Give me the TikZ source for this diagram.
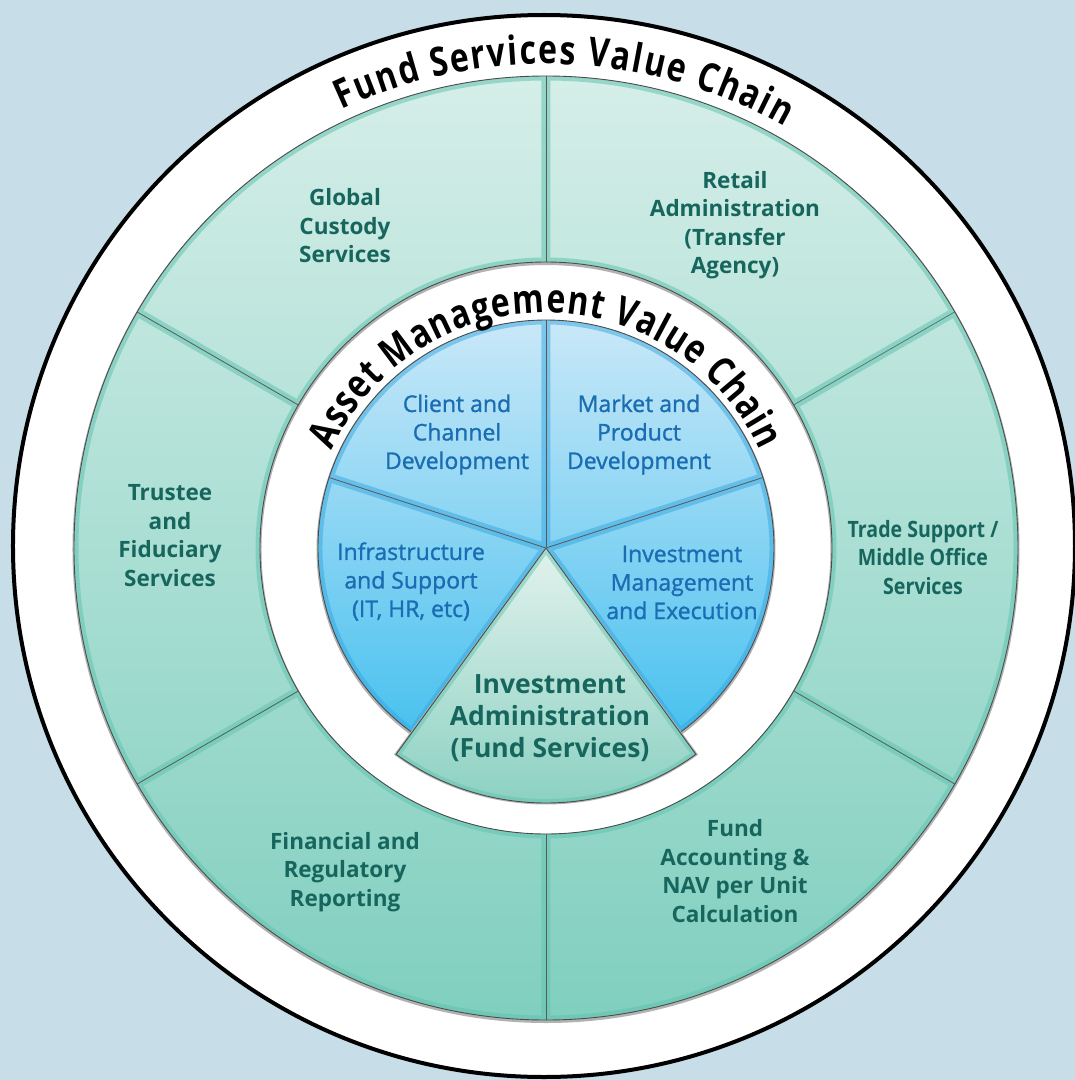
\documentclass[tikz,border=0pt]{standalone}
\usepackage{fontspec}
\setmainfont{Open Sans}
\newfontfamily\titlefont[FakeStretch=0.8]{Open Sans}
\newfontfamily\condfont[FakeStretch=0.87]{Open Sans}
\newfontfamily\bluefont[FakeBold=1.2]{Open Sans}
\usetikzlibrary{decorations.text}
\definecolor{bgblue}{HTML}{C7DDE8}
\definecolor{tealtext}{HTML}{17665E}
\definecolor{bluetext}{HTML}{1A6DB3}
\definecolor{tealtop}{HTML}{D5EEE8}
\definecolor{tealbot}{HTML}{80CFBF}
\definecolor{tealedge}{HTML}{62C4B0}
\definecolor{bluetop}{HTML}{C9E8F8}
\definecolor{bluebot}{HTML}{3CBDEE}
\definecolor{blueedge}{HTML}{35A6E0}
\definecolor{wedgetop}{HTML}{E2F2ED}
\definecolor{wedgebot}{HTML}{86CFBF}

\begin{document}
\begin{tikzpicture}[x=1pt,y=1pt,
  outerlabel/.style={text=tealtext,font=\fontsize{22.5}{28.5}\selectfont\bfseries,align=center},
  innerlabel/.style={text=bluetext,font=\fontsize{23}{28.5}\selectfont\bluefont,align=center},
  rim/.style={draw=black!70,line width=0.9},
  divider/.style={draw=black!65,line width=0.8},
  shadowline/.style={draw=black!30,line width=3}]
\useasboundingbox (-546,-532) rectangle (529,548);
\fill[bgblue] (-546,-532) rectangle (529,548);

% big white disc
\draw[line width=4,fill=white] (-2,2) circle (531);

% fund services ring
\draw[shadowline] (0,-1.5) circle (472);
\draw[shadowline] (0,-1.5) circle (286);
\shade[top color=tealtop,bottom color=tealbot,even odd rule] (0,0) circle (472) (0,0) circle (286);
\foreach \a in {30,90,...,330}{
  \begin{scope}
    \clip (\a:286) -- (\a:472) arc[start angle=\a,delta angle=60,radius=472]
      -- ({\a+60}:286) arc[start angle={\a+60},delta angle=-60,radius=286] -- cycle;
    \draw[tealedge,opacity=0.55,line width=9] (\a:286) -- (\a:472) arc[start angle=\a,delta angle=60,radius=472]
      -- ({\a+60}:286) arc[start angle={\a+60},delta angle=-60,radius=286] -- cycle;
  \end{scope}
  \draw[divider] (\a:286) -- (\a:472);
}
\draw[rim] (0,0) circle (472);
\draw[rim] (0,0) circle (286);

% asset management pie
\draw[shadowline] (0,-1.5) circle (228);
\shade[top color=bluetop,bottom color=bluebot] (0,0) circle (228);
\foreach \a in {-54,18,90,162}{
  \begin{scope}
    \clip (0,0) -- (\a:228) arc[start angle=\a,delta angle=72,radius=228] -- cycle;
    \draw[blueedge,opacity=0.5,line width=9] (0,0) -- (\a:228) arc[start angle=\a,delta angle=72,radius=228] -- cycle;
  \end{scope}
}
\draw[rim] (0,0) circle (228);
\draw[divider] (0,0) -- (90:228);
\draw[divider] (0,0) -- (18:228);
\draw[divider] (0,0) -- (162:228);

% fund services wedge
\draw[shadowline] (0,-1.5) -- (-126:255) arc[start angle=-126,end angle=-54,radius=255] -- cycle;
\shade[top color=wedgetop,bottom color=wedgebot] (0,0) -- (-126:255) arc[start angle=-126,end angle=-54,radius=255] -- cycle;
\begin{scope}
  \clip (0,0) -- (-126:255) arc[start angle=-126,end angle=-54,radius=255] -- cycle;
  \draw[tealedge,opacity=0.5,line width=8] (0,0) -- (-126:255) arc[start angle=-126,end angle=-54,radius=255] -- cycle;
\end{scope}
\draw[rim] (0,0) -- (-126:255) arc[start angle=-126,end angle=-54,radius=255] -- cycle;

% ring titles
\path[decorate,decoration={text along path,text align=fit to path,
  text={|\titlefont\bfseries\fontsize{40}{40}\selectfont|Fund Services Value Chain}}]
  (115:484) arc[start angle=115,end angle=60.5,radius=484];
\path[decorate,decoration={text along path,text align=fit to path,
  text={|\titlefont\bfseries\fontsize{40}{40}\selectfont|Asset Management Value Chain}}]
  (155.5:235) arc[start angle=155.5,end angle=24.5,radius=235];

% outer labels
\node[outerlabel] (gcs) at (-201,322) {Global\\Custody\\Services};
\node[outerlabel] (ra) at (189,323) {Retail\\Administration\\(Transfer\\Agency)};
\node[outerlabel] (tfs) at (-376,12.5) {Trustee\\and\\Fiduciary\\Services};
\node[outerlabel,font=\fontsize{22.5}{28.5}\selectfont\condfont\bfseries] (ts) at (377,-9.5) {Trade Support /\\Middle Office\\Services};
\node[outerlabel] (frr) at (-201,-324) {Financial and\\Regulatory\\Reporting};
\node[outerlabel] (fa) at (189,-323) {Fund\\Accounting \&\\NAV per Unit\\Calculation};

% inner labels
\node[innerlabel] (ccd) at (-89,113.5) {Client and\\Channel\\Development};
\node[innerlabel] (mpd) at (93,113.5) {Market and\\Product\\Development};
\node[innerlabel] (isu) at (-135,-33.5) {Infrastructure\\and Support\\(IT, HR, etc)};
\node[innerlabel] (ime) at (136,-34.5) {Investment\\Management\\and Execution};
\node[outerlabel,font=\fontsize{26.5}{32}\selectfont\bfseries] (ia) at (4,-170.5) {Investment\\Administration\\(Fund Services)};
\end{tikzpicture}
\end{document}
